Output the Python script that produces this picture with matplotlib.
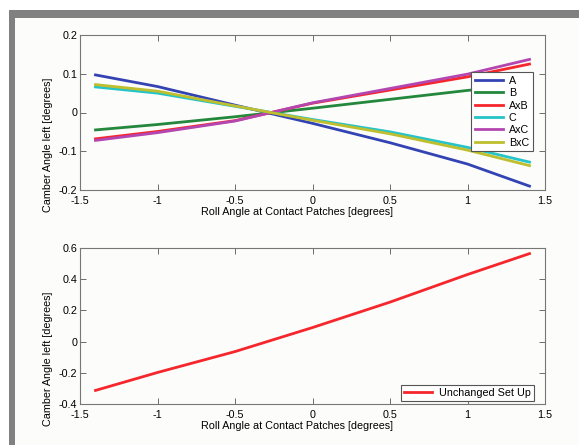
import matplotlib
matplotlib.use("Agg")
import matplotlib.pyplot as plt
from matplotlib.patches import Rectangle

# roll angle samples [deg]
roll = [-1.4, -1.0, -0.5, 0.0, 0.5, 1.0, 1.4]

# camber change per factor
camber_A = [0.097, 0.067, 0.019, -0.028, -0.078, -0.133, -0.190]
camber_B = [-0.045, -0.031, -0.011, 0.011, 0.034, 0.057, 0.071]
camber_AxB = [-0.068, -0.049, -0.021, 0.024, 0.058, 0.092, 0.125]
camber_C = [0.066, 0.050, 0.016, -0.018, -0.050, -0.090, -0.128]
camber_AxC = [-0.072, -0.052, -0.022, 0.025, 0.062, 0.099, 0.137]
camber_BxC = [0.072, 0.055, 0.017, -0.020, -0.055, -0.097, -0.137]

# unchanged set up
camber_base = [-0.313, -0.198, -0.064, 0.090, 0.253, 0.430, 0.564]

series = [
    ("A", camber_A, "#3443b4"),
    ("B", camber_B, "#23873c"),
    ("AxB", camber_AxB, "#f5262c"),
    ("C", camber_C, "#25c4c8"),
    ("AxC", camber_AxC, "#b346b0"),
    ("BxC", camber_BxC, "#bebe2e"),
]

plt.rcParams['font.family'] = ['Liberation Sans', 'DejaVu Sans']
plt.rcParams['font.size'] = 7.75

W, H = 579, 445
fig = plt.figure(figsize=(W / 100, H / 100), dpi=100, facecolor="white")

# grey frame like the original screenshot (drawn behind the axes)
fig.patches.append(Rectangle((9 / W, 0), 1 - 9 / W, 1 - 10 / H, transform=fig.transFigure,
                             facecolor="#fcfcfa", edgecolor="none", zorder=-3))
fig.patches.append(Rectangle((9 / W, 1 - 18 / H), 1 - 9 / W, 8 / H, transform=fig.transFigure,
                             facecolor="#808080", edgecolor="none", zorder=-2))
fig.patches.append(Rectangle((9 / W, 0), 6 / W, 1 - 10 / H, transform=fig.transFigure,
                             facecolor="#808080", edgecolor="none", zorder=-2))


def px_axes(left, top, right, bottom):
    return fig.add_axes([left / W, 1 - bottom / H, (right - left) / W, (bottom - top) / H])


def style(ax):
    ax.set_facecolor("#fcfcfa")
    ax.set_xlim(-1.5, 1.5)
    ax.set_xticks([-1.5, -1, -0.5, 0, 0.5, 1, 1.5])
    ax.set_xticklabels(["-1.5", "-1", "-0.5", "0", "0.5", "1", "1.5"])
    ax.tick_params(direction="in", top=True, right=True, length=4, width=0.6,
                   color="#555555", pad=2)
    ax.tick_params(axis="x", pad=4)
    for s in ax.spines.values():
        s.set_color("#777777")
        s.set_linewidth(0.8)
    ax.set_xlabel("Roll Angle at Contact Patches [degrees]")
    ax.set_ylabel("Camber Angle left [degrees]")
    # labels sit off-centre in the original
    ax.xaxis.set_label_coords(0.467, -0.11)
    ax.yaxis.set_label_coords(-0.058, 0.29)


ax1 = px_axes(80, 35, 545, 190)
for name, vals, col in series:
    ax1.plot(roll, vals, color=col, lw=2, label=name)
style(ax1)
ax1.set_ylim(-0.2, 0.2)
ax1.set_yticks([-0.2, -0.1, 0, 0.1, 0.2])
ax1.set_yticklabels(["-0.2", "-0.1", "0", "0.1", "0.2"])
leg1 = ax1.legend(loc="upper right", bbox_to_anchor=(533 / W, 1 - 72 / H),
                  bbox_transform=fig.transFigure, fancybox=False, framealpha=1,
                  edgecolor="#555555", borderpad=0.35, labelspacing=0.22,
                  handlelength=2.6, handletextpad=0.6, borderaxespad=0)
leg1.get_frame().set_linewidth(0.8)

ax2 = px_axes(80, 248, 545, 404)
ax2.plot(roll, camber_base, color="#f5262c", lw=2, label="Unchanged Set Up")
style(ax2)
ax2.set_ylim(-0.4, 0.6)
ax2.set_yticks([-0.4, -0.2, 0, 0.2, 0.4, 0.6])
ax2.set_yticklabels(["-0.4", "-0.2", "0", "0.2", "0.4", "0.6"])
leg2 = ax2.legend(loc="lower right", bbox_to_anchor=(534 / W, 1 - 401 / H),
                  bbox_transform=fig.transFigure, fancybox=False, framealpha=1,
                  edgecolor="#555555", borderpad=0.3, handlelength=2.6,
                  handletextpad=0.6, borderaxespad=0)
leg2.get_frame().set_linewidth(0.8)

fig.savefig("out.png", dpi=100, facecolor=fig.get_facecolor())
